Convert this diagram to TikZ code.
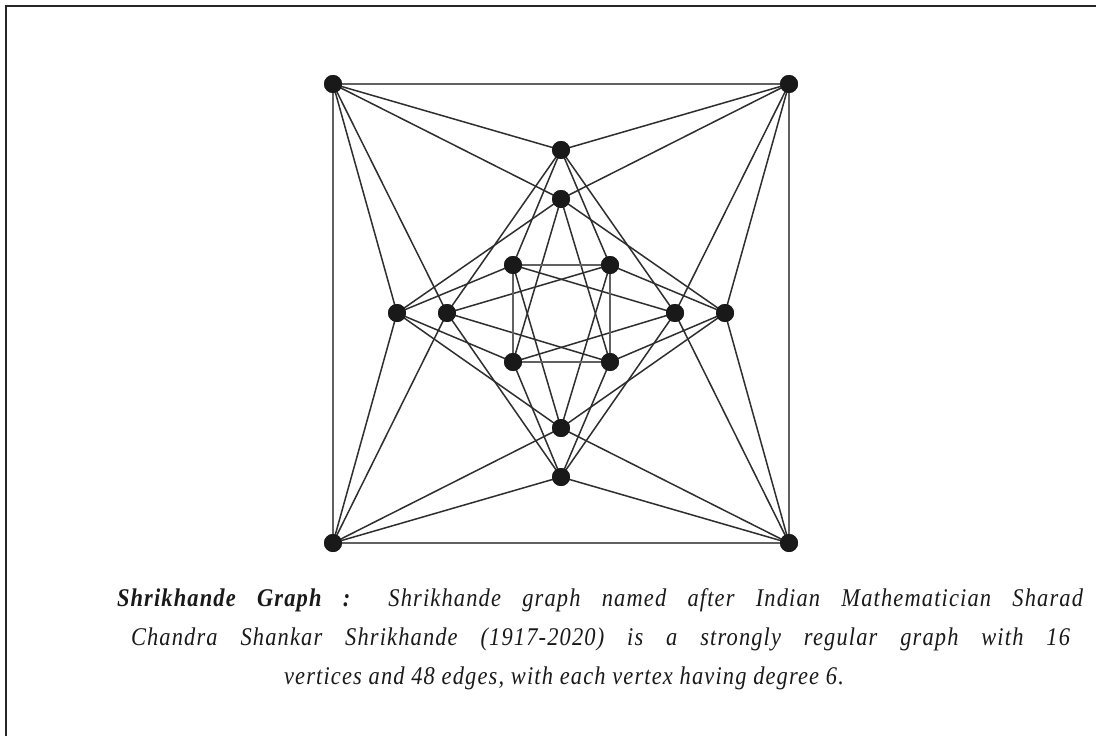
\documentclass[tikz,border=0pt]{standalone}
\usepackage{fontspec}
\setmainfont{Liberation Serif}
\newfontfamily\capfont[FakeStretch=0.88,LetterSpace=4.5]{Liberation Serif}
\begin{document}
\begin{tikzpicture}[x=1pt,y=-1pt,
  vtx/.style={circle,fill=black!90,inner sep=0pt,minimum size=18pt},
  edge/.style={line width=1.5pt,draw=black!82},
  rim/.style={line width=2.2pt,draw=black!62},
  frame/.style={line width=2.2pt,draw=black!85},
  captext/.style={anchor=base,inner sep=0pt,text=black!90,font=\capfont\fontsize{25.5}{37}\selectfont\itshape}]
\useasboundingbox (0,0) rectangle (1096,736);
\draw[frame] (6,736) -- (6,6) -- (1096,6);
% vertices
\node[vtx] (TL) at (333,84) {};
\node[vtx] (TR) at (789,84) {};
\node[vtx] (BL) at (333,543) {};
\node[vtx] (BR) at (789,543) {};
\node[vtx] (T1) at (561,150) {};
\node[vtx] (T2) at (561,199) {};
\node[vtx] (B2) at (561,428) {};
\node[vtx] (B1) at (561,477) {};
\node[vtx] (L1) at (397,313) {};
\node[vtx] (L2) at (447,313) {};
\node[vtx] (R2) at (675,313) {};
\node[vtx] (R1) at (725,313) {};
\node[vtx] (IA) at (513,265) {};
\node[vtx] (IB) at (610,265) {};
\node[vtx] (IC) at (513,362) {};
\node[vtx] (ID) at (610,362) {};
% outer square
\draw[rim] (TL.center) -- (TR.center) -- (BR.center) -- (BL.center) -- cycle;
% corner edges
\foreach \c/\a/\b in {TL/T1/T2, TL/L1/L2, TR/T1/T2, TR/R1/R2, BL/B1/B2, BL/L1/L2, BR/B1/B2, BR/R1/R2}{
  \draw[edge] (\c.center) -- (\a.center);
  \draw[edge] (\c.center) -- (\b.center);
}
% middle-middle edges
\foreach \a/\b in {T1/L2, T1/R2, T2/L1, T2/R1, R1/B2, B1/R2, B1/L2, L1/B2}{
  \draw[edge] (\a.center) -- (\b.center);
}
% inner edges
\foreach \a/\b in {IA/T1, IA/L1, IA/R2, IA/B2, IB/T1, IB/R1, IB/L2, IB/B2,
                   IC/T2, IC/L1, IC/R2, IC/B1, ID/T2, ID/R1, ID/B1, ID/L2}{
  \draw[edge] (\a.center) -- (\b.center);
}
% inner square
\draw[rim,line width=1.8pt] (IA.center) -- (IB.center) -- (ID.center) -- (IC.center) -- cycle;
% dots on top
\foreach \n in {TL,TR,BL,BR,T1,T2,B1,B2,L1,L2,R1,R2,IA,IB,IC,ID}{
  \fill[black!90] (\n.center) circle (9pt);
}
% caption
\node[captext] (c1) at (600,606) {\makebox[966pt][s]{\textbf{Shrikhande Graph :} Shrikhande graph named after Indian Mathematician Sharad}};
\node[captext] (c2) at (600.5,645) {\makebox[939pt][s]{Chandra Shankar Shrikhande (1917-2020) is a strongly regular graph with 16}};
\node[captext] (c3) at (564,684) {vertices and 48 edges, with each vertex having degree 6.};
\end{tikzpicture}
\end{document}
